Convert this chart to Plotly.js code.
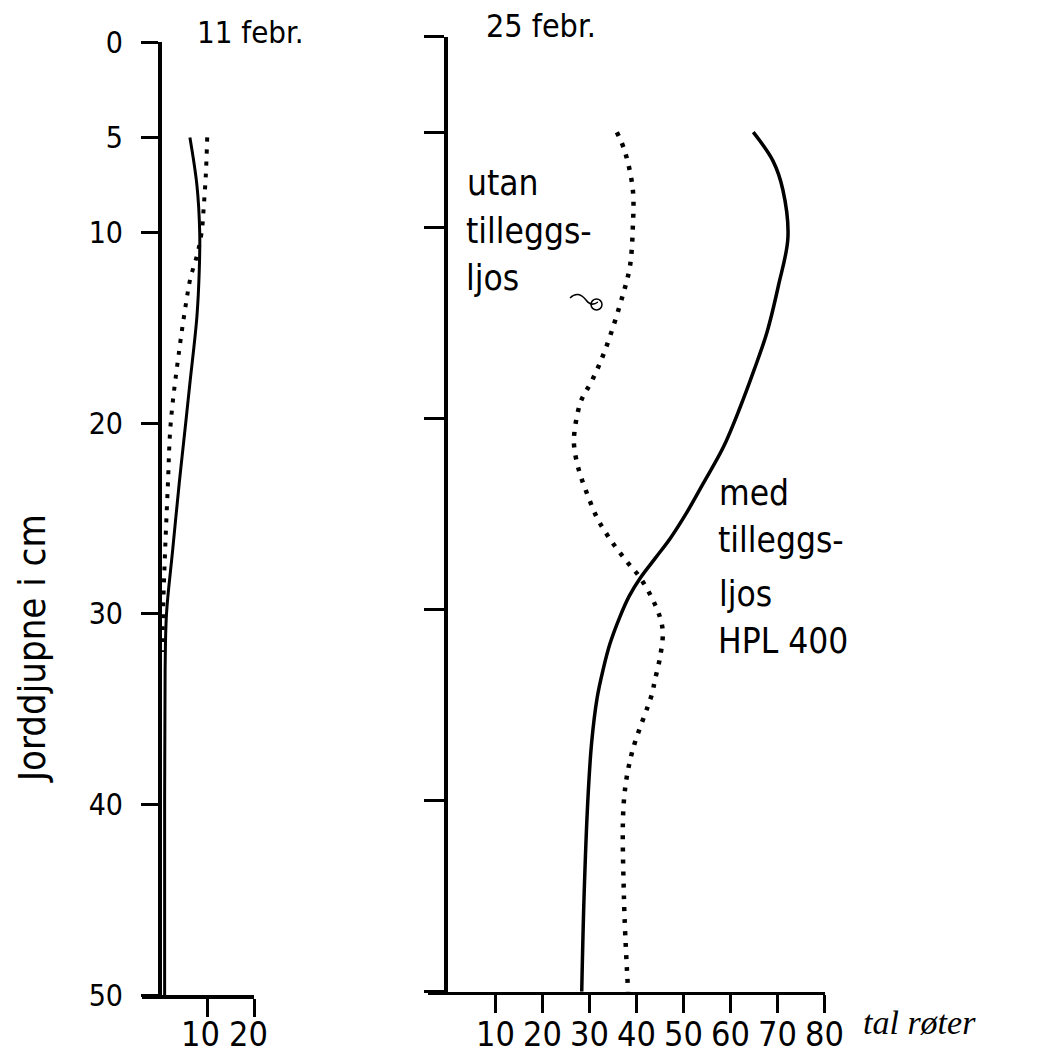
<!DOCTYPE html>
<html>
<head>
<meta charset="utf-8">
<script src="https://cdn.plot.ly/plotly-3.0.1.min.js"></script>
<style>html,body{margin:0;padding:0;background:#fff;}#chart{width:1047px;height:1057px;}</style>
</head>
<body>
<div id="chart"></div>
<script>
// ---- data (depth in cm, number of roots) ----
const depthTicks = [0, 5, 10, 20, 30, 40, 50];
const leftXTicks = [10, 20];
const rightXTicks = [10, 20, 30, 40, 50, 60, 70, 80];

// 11 febr. – solid
const feb11SolidDepth = [5, 7.5, 10, 12, 14.4, 17.9, 20, 23.2, 26.7, 30, 33, 40, 50];
const feb11SolidRoots = [6.3, 7.8, 8.4, 8.3, 7.8, 6.3, 5.4, 4.0, 2.6, 1.3, 1.0, 0.9, 0.9];
// 11 febr. – dotted
const feb11DotDepth = [5, 7, 8.5, 10, 11.2, 12.4, 13.5, 16.2, 20, 23.2, 26.7, 29.6, 32];
const feb11DotRoots = [10.0, 9.7, 9.3, 8.8, 7.8, 6.4, 5.6, 4.0, 2.2, 1.6, 1.0, 0.6, 0.4];

// 25 febr. – med tilleggsljos HPL 400 (solid)
const feb25MedDepth = [5, 6.5, 8, 10.5, 13, 15.5, 17.5, 19.4, 21.5, 23.4, 25, 26.3, 27.3, 28.3, 29.3, 30.4, 31.8, 33.1, 34.6, 37, 40, 45, 50];
const feb25MedRoots = [64.9, 69.1, 71.2, 72.3, 70.3, 67.8, 65.0, 62.1, 58.5, 54.2, 50.5, 47.1, 44.0, 40.9, 38.4, 36.4, 34.3, 32.9, 31.6, 30.4, 29.6, 28.8, 28.3];
// 25 febr. – utan tilleggsljos (dotted)
const feb25UtanDepth = [5, 6, 8, 10, 12, 13.5, 16.4, 18, 19.1, 20.8, 21.5, 22.7, 23.9, 25.2, 26.4, 27.5, 28.3, 29.4, 30.4, 31.2, 32.5, 33.7, 34.4, 37.5, 40, 45, 50];
const feb25UtanRoots = [35.8, 37.5, 39.2, 39.2, 38.6, 37.1, 33.3, 30.5, 28.1, 26.7, 26.7, 27.7, 29.4, 31.6, 34.6, 38.0, 40.7, 43.3, 45.0, 45.6, 45.0, 43.9, 43.3, 39.0, 37.3, 37.3, 38.2];

// ---- helpers ----
const W = 1047, H = 1057;
const px = x => x / W;
const py = y => 1 - y / H;

const TXT = "DejaVu Sans Condensed, Liberation Sans Narrow, DejaVu Sans, sans-serif";
const NUM = "Liberation Sans Narrow, DejaVu Sans Condensed, sans-serif";

const solid = {color: '#000', width: 3.5, shape: 'spline', smoothing: 1};
const dotted = {color: '#000', width: 4.5, shape: 'spline', smoothing: 1, dash: '4px,8px'};

const traces = [
  {x: feb11SolidRoots, y: feb11SolidDepth, xaxis: 'x', yaxis: 'y', mode: 'lines', line: Object.assign({}, solid, {width: 3}), hoverinfo: 'skip'},
  {x: feb11DotRoots, y: feb11DotDepth, xaxis: 'x', yaxis: 'y', mode: 'lines', line: Object.assign({}, dotted, {width: 4}), hoverinfo: 'skip'},
  {x: feb25MedRoots, y: feb25MedDepth, xaxis: 'x2', yaxis: 'y2', mode: 'lines', line: solid, hoverinfo: 'skip'},
  {x: feb25UtanRoots, y: feb25UtanDepth, xaxis: 'x2', yaxis: 'y2', mode: 'lines', line: dotted, hoverinfo: 'skip'}
];

const axisBase = {
  showline: true, linecolor: '#000', linewidth: 3.5,
  ticks: 'outside', tickcolor: '#000', tickwidth: 3,
  showgrid: false, zeroline: false, fixedrange: true
};

function ann(text, x, y, size, extra) {
  return Object.assign({
    text: text, x: px(x), y: py(y), xref: 'paper', yref: 'paper',
    xanchor: 'left', yanchor: 'middle', showarrow: false, borderpad: 0,
    font: {family: TXT, size: size, color: '#000'}
  }, extra || {});
}

// x tick labels as annotations placed at the axis values
function xTickLabels(vals, xref, shifts) {
  return vals.map((v, i) => ({
    text: String(v), x: v, xref: xref, y: py(1055), yref: 'paper',
    xanchor: 'center', yanchor: 'bottom', showarrow: false, borderpad: 0,
    xshift: shifts ? shifts[i] : 0,
    font: {family: NUM, size: 34, color: '#000'}
  }));
}

const layout = {
  width: W, height: H,
  margin: {l: 0, r: 0, t: 0, b: 0},
  paper_bgcolor: '#fff', plot_bgcolor: 'rgba(0,0,0,0)',
  showlegend: false,
  xaxis: Object.assign({}, axisBase, {
    domain: [px(141.7), px(254)], range: [-4, 20], anchor: 'y',
    tickvals: leftXTicks, ticklen: 18, showticklabels: false
  }),
  yaxis: Object.assign({}, axisBase, {
    domain: [py(995), py(42.1)], range: [50, 0], anchor: 'free', position: px(159),
    tickvals: depthTicks, ticklen: 17, ticklabelstandoff: 12,
    tickfont: {family: TXT, size: 30, color: '#000'}
  }),
  xaxis2: Object.assign({}, axisBase, {
    domain: [px(428), px(824.5)], range: [-4.5, 80.1], anchor: 'y2',
    tickvals: rightXTicks, ticklen: 18, showticklabels: false
  }),
  yaxis2: Object.assign({}, axisBase, {
    domain: [py(991.7), py(36.7)], range: [50, 0], anchor: 'free', position: px(445),
    tickvals: depthTicks, ticklen: 20, showticklabels: false
  }),
  annotations: [
    ann('11 febr.', 196, 32, 31),
    ann('25 febr.', 485, 26, 32),
    ann('utan', 466, 183, 35),
    ann('tilleggs-', 465, 231, 35),
    ann('ljos', 465, 278, 35),
    ann('med', 718, 493, 35),
    ann('tilleggs-', 717, 540, 35),
    ann('ljos', 718, 594, 35),
    ann('HPL 400', 717, 641, 35),
    ann('Jorddjupne i cm', 32, 649, 38, {xanchor: 'center', textangle: -90}),
    ann('tal røter', 862, 1022, 34, {font: {family: 'Liberation Serif, DejaVu Serif, serif', size: 34, color: '#000', style: 'italic'}})
  ].concat(xTickLabels(leftXTicks, 'x', [-7, -6]), xTickLabels(rightXTicks, 'x2')),
  shapes: [
    {type: 'path', xref: 'paper', yref: 'paper',
     path: 'M ' + px(570) + ' ' + py(298) + ' Q ' + px(578) + ' ' + py(290) + ' ' + px(586) + ' ' + py(300) + ' Q ' + px(591) + ' ' + py(307) + ' ' + px(598) + ' ' + py(302),
     line: {color: '#000', width: 1.5}},
    {type: 'circle', xref: 'paper', yref: 'paper', x0: px(591), x1: px(602), y0: py(310), y1: py(299), line: {color: '#000', width: 1.5}}
  ]
};

Plotly.newPlot('chart', traces, layout, {staticPlot: true, displayModeBar: false});
</script>
</body>
</html>
